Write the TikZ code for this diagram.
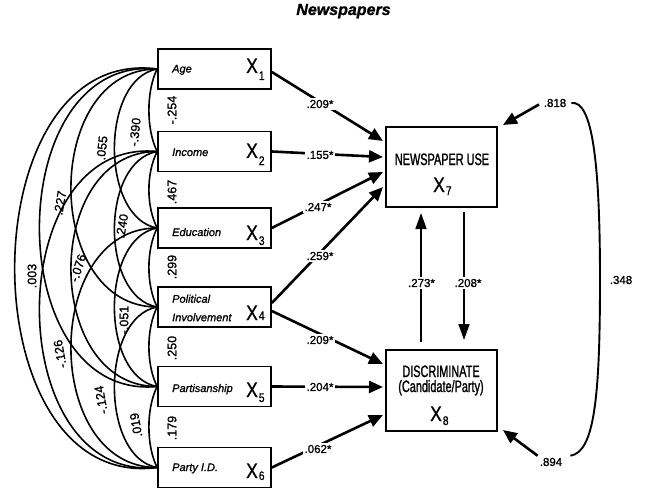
\documentclass[tikz,border=0pt]{standalone}
\usepackage{fontspec}
\setmainfont{Liberation Sans}[FakeBold=1.2]
\newfontfamily\condA{Liberation Sans}[FakeStretch=0.66,FakeBold=1.2]
\newfontfamily\condB{Liberation Sans}[FakeStretch=0.83,FakeBold=0.8]
\usetikzlibrary{arrows.meta}
\newcommand\Xsub[2]{X\kern1pt\raisebox{-#2pt}{\fontsize{12.5}{13}\selectfont #1}}
\newcommand\corrarc[5]{\draw[corrline] (#1.west) .. controls +(-#3,#4) and +(-#3,#5) .. (#2.west);}
\tikzset{
  varbox/.style={draw, line width=1.7pt, minimum width=113pt, minimum height=40pt, inner sep=0pt},
  endobox/.style={draw, line width=1.7pt, minimum width=111pt, minimum height=80pt, inner sep=0pt},
  lab/.style={font=\fontsize{11}{18.5}\selectfont\itshape, anchor=base west, inner sep=0pt, align=left},
  xl/.style={font=\condB\fontsize{21}{21}\selectfont, anchor=base west, inner sep=0pt},
  bigtxt/.style={font=\condA\fontsize{16.5}{18}\selectfont, inner sep=0pt, anchor=base},
  coef/.style={font=\fontsize{11.5}{12}\selectfont, fill=white, inner sep=1.5pt},
  corr/.style={font=\fontsize{12.5}{13}\selectfont, inner sep=0pt},
  resid/.style={font=\fontsize{11.5}{12}\selectfont, inner sep=2pt},
  corrline/.style={line width=1.6pt},
  patharrow/.style={line width=2.6pt, -{Triangle[length=14pt,width=12pt]}},
  vertarrow/.style={line width=1.6pt, -{Triangle[length=16pt,width=11pt]}},
  residarrow/.style={line width=2.6pt, -{Triangle[length=14pt,width=12pt]}},
  bracket/.style={line width=1.9pt}
}
\begin{document}
\begin{tikzpicture}[x=1pt,y=-1pt]
\useasboundingbox (0,0) rectangle (647,497);

% title
\node[font=\bfseries\itshape\fontsize{16}{18}\selectfont, anchor=base, inner sep=0pt] (title) at (343.5,15) {Newspapers};

% exogenous boxes
\node[varbox] (x1) at (214.5,69) {};
\node[varbox] (x2) at (214.5,151.5) {};
\node[varbox] (x3) at (214.5,228) {};
\node[varbox] (x4) at (214.5,307) {};
\node[varbox] (x5) at (214.5,386.5) {};
\node[varbox] (x6) at (214.5,467.5) {};

\node[lab] (l1) at (172,72.5) {Age};
\node[lab] (l2) at (172,156) {Income};
\node[lab] (l3) at (172,236) {Education};
\node[lab, anchor=west] (l4) at (172,308) {Political\\Involvement};
\node[lab] (l5) at (172,392) {Partisanship};
\node[lab] (l6) at (172,471) {Party I.D.};

\node[xl] (v1) at (246,73) {\Xsub{1}{7}};
\node[xl] (v2) at (246,158) {\Xsub{2}{7}};
\node[xl] (v3) at (246,240) {\Xsub{3}{5}};
\node[xl] (v4) at (246,320) {\Xsub{4}{0}};
\node[xl] (v5) at (246,397) {\Xsub{5}{5}};
\node[xl] (v6) at (246,478) {\Xsub{6}{2}};

% endogenous boxes
\node[endobox] (n7) at (441.5,167) {};
\node[endobox, minimum height=81pt] (n8) at (441.5,390.5) {};
\node[bigtxt] (t7) at (442,165) {NEWSPAPER USE};
\node[xl] (v7) at (433,192) {\Xsub{7}{3}};
\node[bigtxt] (t8a) at (441,377) {DISCRIMINATE};
\node[bigtxt] (t8b) at (441,392) {(Candidate/Party)};
\node[xl] (v8) at (430,421) {\Xsub{8}{4}};

% correlation arcs
% span 1
\corrarc{x1}{x2}{11}{22}{-22}
\corrarc{x2}{x3}{11}{22}{-22}
\corrarc{x3}{x4}{11}{22}{-22}
\corrarc{x4}{x5}{11}{22}{-22}
\corrarc{x5}{x6}{11}{22}{-22}
% span 2
\corrarc{x1}{x3}{57}{10}{-10}
\corrarc{x2}{x4}{57}{10}{-10}
\corrarc{x3}{x5}{57}{10}{-10}
\corrarc{x4}{x6}{57}{10}{-10}
% span 3
\corrarc{x1}{x4}{115}{0}{0}
\corrarc{x2}{x5}{115}{0}{0}
\corrarc{x3}{x6}{115}{0}{0}
% span 4
\corrarc{x1}{x5}{157}{-15}{15}
\corrarc{x2}{x6}{157}{-15}{15}
% span 5
\corrarc{x1}{x6}{190}{-25}{25}

% correlation labels
\node[corr, rotate=90] (r12) at (172,110) {-.254};
\node[corr, rotate=90] (r23) at (172,192) {.467};
\node[corr, rotate=90] (r34) at (172,267) {.299};
\node[corr, rotate=90] (r45) at (172,348) {.250};
\node[corr, rotate=90] (r56) at (172,428) {.179};
\node[corr, rotate=84] (r13) at (135,132) {-.390};
\node[corr, rotate=80] (r24) at (122,226) {.240};
\node[corr, rotate=90] (r35) at (124,320) {-.051};
\node[corr, rotate=100] (r46) at (136,425) {.019};
\node[corr, rotate=84] (r14) at (102,148) {.055};
\node[corr, rotate=72] (r25) at (78,268) {-.076};
\node[corr, rotate=100] (r36) at (101,400) {-.124};
\node[corr, rotate=80] (r15) at (60,203) {.227};
\node[corr, rotate=100] (r26) at (60,354) {-.126};
\node[corr, rotate=90] (r16) at (32,276) {.003};

% path arrows
\coordinate (a1) at (383,141);
\coordinate (a2) at (383,157);
\coordinate (a3) at (383,172);
\coordinate (a4) at (383,187);
\coordinate (a5) at (383,364);
\coordinate (a6) at (383,387);
\coordinate (a7) at (383,415);
\draw[patharrow] ([yshift=-3pt]x1.east) -- (a1);
\draw[patharrow] (x2.east) -- (a2);
\draw[patharrow] (x3.east) -- (a3);
\draw[patharrow] ([yshift=4pt]x4.east) -- (a4);
\draw[patharrow] ([yshift=-4pt]x4.east) -- (a5);
\draw[patharrow] (x5.east) -- (a6);
\draw[patharrow] (x6.east) -- (a7);
\node[coef] (c1) at (320,104) {.209*};
\node[coef] (c2) at (320,155) {.155*};
\node[coef] (c3) at (318,207) {.247*};
\node[coef] (c4) at (320,256) {.259*};
\node[coef] (c5) at (320,340) {.209*};
\node[coef] (c6) at (320,387) {.204*};
\node[coef] (c7) at (318,449) {.062*};

% reciprocal arrows
\coordinate (u0) at (421,342);
\coordinate (u1) at (421,213);
\coordinate (d0) at (464,212);
\coordinate (d1) at (464,340);
\draw[vertarrow] (u0) -- (u1);
\draw[vertarrow] (d0) -- (d1);
\node[coef] (c8) at (421.5,283) {.273*};
\node[coef] (c9) at (468,283) {.208*};

% residuals
\node[resid] (e7) at (555,103) {.818};
\node[resid] (e8) at (551,462) {.894};
\coordinate (e7t) at (503,125);
\coordinate (e8t) at (503,430);
\draw[residarrow, shorten <=3pt] (e7.west) -- (e7t);
\draw[residarrow] (e8.north west) -- (e8t);
\draw[bracket] ([xshift=3pt]e7.east) .. controls (592,100) and (600,160) .. (600,280)
   .. controls (600,400) and (594,452) .. ([xshift=6pt]e8.north east);
\node[resid] (e78) at (621,280) {.348};
\end{tikzpicture}
\end{document}
